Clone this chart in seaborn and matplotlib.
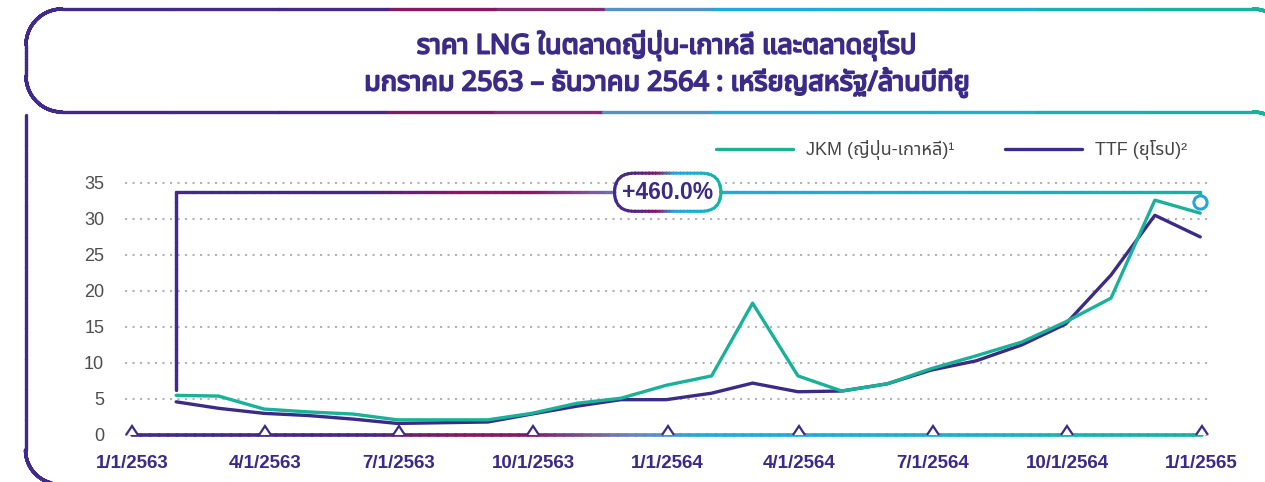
import numpy as np
import pandas as pd
import matplotlib
matplotlib.use('Agg')
import matplotlib.pyplot as plt
import matplotlib.dates as mdates
import matplotlib.patheffects as pe
import seaborn as sns
from matplotlib import font_manager
from matplotlib.ft2font import FT2Font
from matplotlib.collections import LineCollection
from matplotlib.colors import LinearSegmentedColormap
from matplotlib.patches import PathPatch
from matplotlib.transforms import Bbox, IdentityTransform

# ---- data (USD / MMBtu, monthly) ----
months = pd.date_range('2020-01-31', periods=24, freq='ME')
jkm = [5.5, 5.4, 3.6, 3.2, 2.9, 2.1, 2.1, 2.1, 3.0, 4.4, 5.1, 6.9,
       8.2, 18.3, 8.2, 6.1, 7.1, 9.2, 11.0, 12.9, 15.7, 19.0, 32.6, 30.8]
ttf = [4.6, 3.7, 3.0, 2.7, 2.2, 1.6, 1.7, 1.8, 2.9, 4.0, 4.9, 4.9,
       5.8, 7.2, 6.0, 6.1, 7.1, 9.0, 10.3, 12.5, 15.4, 22.2, 30.5, 27.5]
series_names = ['JKM (ญี่ปุ่น-เกาหลี)¹', 'TTF (ยุโรป)²']
tick_dates = pd.date_range('2020-01-01', periods=9, freq='QS')
tick_labels = ['1/1/2563', '4/1/2563', '7/1/2563', '10/1/2563', '1/1/2564',
               '4/1/2564', '7/1/2564', '10/1/2564', '1/1/2565']
y_ticks = [0, 5, 10, 15, 20, 25, 30, 35]
title = 'ราคา LNG ในตลาดญี่ปุ่น-เกาหลี และตลาดยุโรป\nมกราคม 2563 – ธันวาคม 2564 : เหรียญสหรัฐ/ล้านบีทียู'
change_label = '+460.0%'
bracket_start = 6.2
bracket_top = 33.7
end_marker = 32.3

purple = '#3B2A86'
teal = '#19B197'
grad = LinearSegmentedColormap.from_list('grad', [
    (0.0, '#3F2A8C'), (0.29, '#46288A'), (0.36, '#8C1661'), (0.42, '#8C1661'),
    (0.50, '#6A86BE'), (0.56, '#22A9E0'), (0.78, '#1AAFD0'), (0.92, '#15B3A0'),
    (1.0, '#13B59A')])
ring = LinearSegmentedColormap.from_list('ring', [
    (0.0, '#3F2A8C'), (0.28, '#5A2580'), (0.4, '#8C1661'), (0.56, '#24A6E0'),
    (0.78, '#1AAFCF'), (1.0, '#15B39D')])


def find_thai_font():
    prefer = ['Noto Sans Thai', 'Noto Sans Thai UI', 'Sarabun', 'Kanit', 'Prompt',
              'Loma', 'Garuda', 'Norasi', 'Tlwg Typo']
    found = []
    for f in font_manager.fontManager.ttflist:
        try:
            if ord('ก') in FT2Font(f.fname).get_charmap():
                found.append(f.name)
        except Exception:
            pass
    for p in prefer:
        if p in found:
            return p
    return found[0] if found else 'DejaVu Sans'


sns.set_style('white')
thai = find_thai_font()
fams = ['Liberation Sans', thai, 'DejaVu Sans']
plt.rcParams['font.family'] = fams

W, H = 1265, 482
fig = plt.figure(figsize=(W / 100, H / 100), dpi=100)
ax = fig.add_axes([125 / W, 42 / H, 1084 / W, 260 / H])
ax.set_zorder(2)
ax.patch.set_alpha(0)

df = pd.DataFrame({'date': months, 'jkm': jkm, 'ttf': ttf})
sns.lineplot(data=df, x='date', y='ttf', ax=ax, color=purple, lw=2.4,
             label=series_names[1], zorder=4)
sns.lineplot(data=df, x='date', y='jkm', ax=ax, color=teal, lw=2.4,
             label=series_names[0], zorder=5)

ax.set_xlim(tick_dates[0] - pd.Timedelta(days=5), tick_dates[-1] + pd.Timedelta(days=5))
ax.set_ylim(-0.7, 35.4)
ax.set_xticks(tick_dates)
ax.set_xticklabels(tick_labels, fontweight='bold', color=purple, fontsize=13.5)
ax.set_yticks(y_ticks)
ax.set_yticklabels([str(v) for v in y_ticks], color='#4D4D4D', fontsize=13)
ax.tick_params(axis='x', length=0, pad=11)
ax.tick_params(axis='y', length=0, pad=15)
ax.set_xlabel('')
ax.set_ylabel('')
ax.yaxis.grid(True, color='#B3B3B3', lw=1.5, ls=(0, (1, 2.6)))
ax.xaxis.grid(False)
for s in ax.spines.values():
    s.set_visible(False)

handles, labels = ax.get_legend_handles_labels()
leg = fig.legend(handles[::-1], labels[::-1], loc='center right',
                 bbox_to_anchor=(1187 / W, 1 - 150 / H), ncol=2, frameon=False,
                 handlelength=4.3, columnspacing=2.8, handletextpad=0.7,
                 borderpad=0, borderaxespad=0,
                 prop={'family': fams, 'size': 13})
for t in leg.get_texts():
    t.set_color('#444444')
ax.get_legend().remove()


def gradient_line(xs, ys, lw, z):
    xs = mdates.date2num(pd.to_datetime(xs))
    ys = np.asarray(ys, dtype=float)
    px, py = [], []
    for i in range(len(xs) - 1):
        px.append(np.linspace(xs[i], xs[i + 1], 120))
        py.append(np.linspace(ys[i], ys[i + 1], 120))
    px, py = np.concatenate(px), np.concatenate(py)
    pts = np.column_stack([px, py])
    segs = np.stack([pts[:-1], pts[1:]], axis=1)
    disp = ax.transData.transform(pts)[:, 0]
    cols = grad(((disp[:-1] + disp[1:]) / 2) / W)
    lc = LineCollection(segs, colors=cols, linewidths=lw, capstyle='round',
                        zorder=z, clip_on=False)
    ax.add_collection(lc)


# zero line with tick markers, and the bracket to the last JKM value
gradient_line([tick_dates[0], tick_dates[-1]], [0, 0], 2.6, 3)
ax.plot(tick_dates, [0] * len(tick_dates), ls='none', marker=10, ms=8.5,
        mfc='white', mec=purple, mew=1.6, zorder=6, clip_on=False)
gradient_line([months[0], months[0], months[-1], months[-1]],
              [bracket_start, bracket_top, bracket_top, end_marker + 0.7], 2.4, 3)
ax.plot([months[-1]], [end_marker], marker='o', ms=9.5, mfc='white', mec='#22A6D6',
        mew=2.2, zorder=7, clip_on=False)

badge = ax.text(tick_dates[4], bracket_top, change_label, ha='center', va='center',
                fontsize=16.5, fontweight='bold', color=purple, zorder=8,
                bbox=dict(boxstyle='round,pad=0.33,rounding_size=0.85', fc='white', ec='none'))

# frame decoration in pixel coordinates
deco = fig.add_axes([0, 0, 1, 1])
deco.set_xlim(0, W)
deco.set_ylim(H, 0)
deco.axis('off')
deco.set_zorder(1)


def arc(cx, cy, r, t0, t1):
    t = np.linspace(t0, t1, 40)
    return np.column_stack([cx + r * np.cos(t), cy + r * np.sin(t)])


def frame_line(parts, lw):
    pts = np.vstack(parts)
    dense = []
    for a, b in zip(pts[:-1], pts[1:]):
        dense.append(np.linspace(a, b, 12))
    pts = np.vstack(dense)
    segs = np.stack([pts[:-1], pts[1:]], axis=1)
    cols = grad(np.clip(segs[:, :, 0].mean(axis=1) / W, 0, 1))
    deco.add_collection(LineCollection(segs, colors=cols, linewidths=lw, capstyle='round'))


r = 36
frame_line([arc(1253, 9 + r, r, 0, -np.pi / 2),
            arc(26 + r, 9 + r, r, -np.pi / 2, -np.pi),
            arc(26 + r, 112 - r, r, np.pi, np.pi / 2),
            arc(1253, 112 + r, r, -np.pi / 2, 0)], 2.4)
frame_line([np.array([[25.5, 115], [25.5, 450]]),
            arc(25.5 + 34, 450, 34, np.pi, np.pi / 2)], 2.4)

fig.text(667 / W, 1 - 64 / H, title, ha='center', va='center', fontsize=19.5,
         fontweight='bold', color=purple, linespacing=1.3, family=[thai, 'DejaVu Sans'],
         path_effects=[pe.withStroke(linewidth=1.3, foreground=purple)])

# gradient outline for the change badge
fig.canvas.draw()
bp = badge.get_bbox_patch()
path = bp.get_transform().transform_path(bp.get_path())
ext = path.get_extents()
n = 80
edges = np.linspace(ext.x0 - 3, ext.x1 + 3, n + 1)
for i in range(n):
    pp = PathPatch(path, fill=False, ec=ring((i + 0.5) / n), lw=2.2,
                   transform=IdentityTransform(), zorder=5)
    pp.set_clip_box(Bbox.from_extents(edges[i], ext.y0 - 5, edges[i + 1] + 0.5, ext.y1 + 5))
    fig.add_artist(pp)

fig.savefig('out.png', dpi=100)
